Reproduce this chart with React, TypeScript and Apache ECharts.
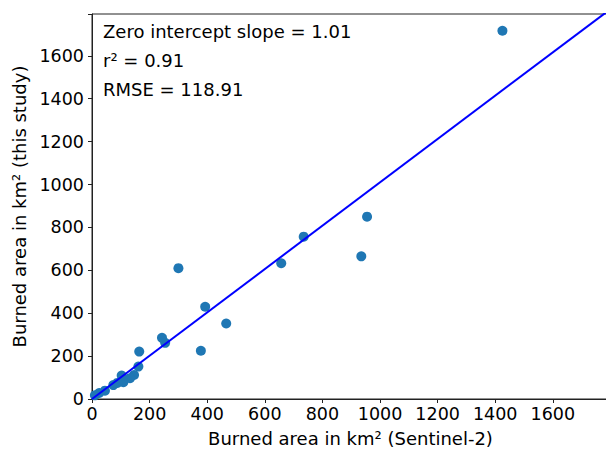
import React, { useEffect, useRef } from "react";
import * as echarts from "echarts";

const sentinelArea = [1425, 955, 935, 735, 657, 300, 393, 466, 378, 243, 254, 164, 161, 146, 132, 109, 103, 88, 74, 45, 25, 10];
const studyArea = [1717, 850, 665, 757, 633, 610, 430, 352, 225, 285, 262, 221, 151, 112, 97, 78, 109, 75, 65, 39, 28, 17];
const xTicks = [0, 200, 400, 600, 800, 1000, 1200, 1400, 1600];
const yTicks = [0, 200, 400, 600, 800, 1000, 1200, 1400, 1600];
const slope = 1.01;
const axisMax = 1795;
const statLines = ["Zero intercept slope = 1.01", "r\u00b2 = 0.91", "RMSE = 118.91"];

export default function App() {
  const ref = useRef<HTMLDivElement>(null);
  useEffect(() => {
    document.body.style.margin = "0";
    const chart = echarts.init(ref.current!, null, { renderer: "svg" });
    const font = "DejaVu Sans";
    const points = sentinelArea.map((x, i) => [x, studyArea[i]]);
    const fmt = (allowed: number[]) => (v: number) => (allowed.includes(v) ? String(v) : "");
    chart.setOption({
      animation: false,
      textStyle: { fontFamily: font },
      grid: {
        left: 92,
        top: 14,
        bottom: 50,
        right: -3,
        show: true,
        borderColor: "#222",
        borderWidth: 1,
        containLabel: false,
        outerBoundsMode: "none",
      },
      xAxis: {
        type: "value",
        min: 0,
        max: axisMax,
        interval: 200,
        name: "Burned area in km\u00b2 (Sentinel-2)",
        nameLocation: "middle",
        nameGap: 30,
        nameTextStyle: { fontSize: 18, color: "#000", fontFamily: font },
        axisLine: { show: true, lineStyle: { color: "#222", width: 1 } },
        axisTick: { show: true, length: 4, inside: false, lineStyle: { color: "#222" } },
        axisLabel: { fontSize: 17.5, color: "#000", margin: 6, formatter: fmt(xTicks), fontFamily: font },
        splitLine: { show: false },
      },
      yAxis: {
        type: "value",
        min: 0,
        max: axisMax,
        interval: 200,
        name: "Burned area in km\u00b2 (this study)",
        nameLocation: "middle",
        nameGap: 62,
        nameTextStyle: { fontSize: 18, color: "#000", fontFamily: font },
        axisLine: { show: true, lineStyle: { color: "#222", width: 1 } },
        axisTick: { show: true, length: 4, inside: false, lineStyle: { color: "#222" } },
        axisLabel: { fontSize: 17.5, color: "#000", margin: 8, formatter: fmt(yTicks), fontFamily: font },
        splitLine: { show: false },
      },
      series: [
        {
          type: "scatter",
          data: points,
          symbolSize: 10,
          itemStyle: { color: "#1f77b4", opacity: 1 },
          z: 2,
        },
        {
          type: "line",
          data: [
            [0, 0],
            [axisMax, slope * axisMax],
          ],
          showSymbol: false,
          symbol: "none",
          lineStyle: { color: "#0000ff", width: 2 },
          clip: true,
          z: 3,
        },
      ],
      graphic: statLines.map((t, i) => ({
        type: "text",
        x: 103,
        y: 31 + i * 29,
        style: { text: t, fontSize: 18, fontFamily: font, fill: "#000", textVerticalAlign: "middle", verticalAlign: "middle" },
      })),
    });
    return () => chart.dispose();
  }, []);
  return <div ref={ref} style={{ width: 606, height: 449 }} />;
}
